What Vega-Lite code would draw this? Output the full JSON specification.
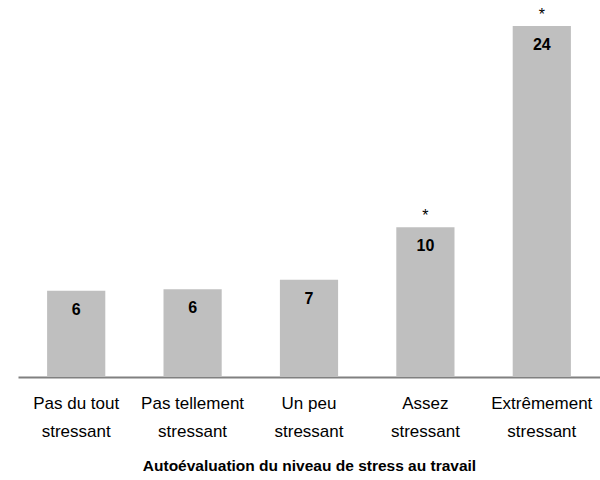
{
  "$schema": "https://vega.github.io/schema/vega-lite/v6.json",
  "width": 582,
  "height": 377,
  "padding": {"left": 18, "top": 0, "right": 0, "bottom": 0},
  "autosize": {"type": "pad"},
  "config": {"view": {"stroke": null}, "font": "Liberation Sans Narrow, Arial Narrow, Liberation Sans, sans-serif"},
  "data": {
    "values": [
      {"niveau": "Pas du tout stressant", "pct": 6.0, "label": "6", "sig": ""},
      {"niveau": "Pas tellement stressant", "pct": 6.1, "label": "6", "sig": ""},
      {"niveau": "Un peu stressant", "pct": 6.75, "label": "7", "sig": ""},
      {"niveau": "Assez stressant", "pct": 10.4, "label": "10", "sig": "*"},
      {"niveau": "Extrêmement stressant", "pct": 24.4, "label": "24", "sig": "*"}
    ]
  },
  "encoding": {
    "x": {
      "field": "niveau",
      "type": "nominal",
      "sort": null,
      "scale": {"paddingInner": 0.5, "paddingOuter": 0.25},
      "axis": {
        "title": "Autoévaluation du niveau de stress au travail",
        "titleFont": "Liberation Sans Narrow, Arial Narrow, Liberation Sans, sans-serif",
        "titleFontSize": 15.5,
        "titleFontWeight": "bold",
        "titleColor": "#000000",
        "titlePadding": 19,
        "labelExpr": "[replace(datum.label, ' stressant', ''), 'stressant']",
        "labelAngle": 0,
        "labelFont": "Liberation Sans Narrow, Arial Narrow, Liberation Sans, sans-serif",
        "labelFontSize": 17,
        "labelColor": "#000000",
        "labelLineHeight": 28,
        "labelPadding": 18,
        "ticks": false,
        "domainColor": "#808080",
        "domainWidth": 2
      }
    },
    "y": {
      "field": "pct",
      "type": "quantitative",
      "scale": {"domain": [0, 26.2]},
      "axis": null
    }
  },
  "layer": [
    {"mark": {"type": "bar", "color": "#bfbfbf"}},
    {
      "mark": {"type": "text", "baseline": "top", "dy": 11, "fontSize": 16, "fontWeight": "bold", "color": "#000000"},
      "encoding": {"text": {"field": "label"}}
    },
    {
      "mark": {"type": "text", "baseline": "bottom", "dy": -3, "fontSize": 16, "color": "#000000"},
      "encoding": {"text": {"field": "sig"}}
    }
  ]
}
